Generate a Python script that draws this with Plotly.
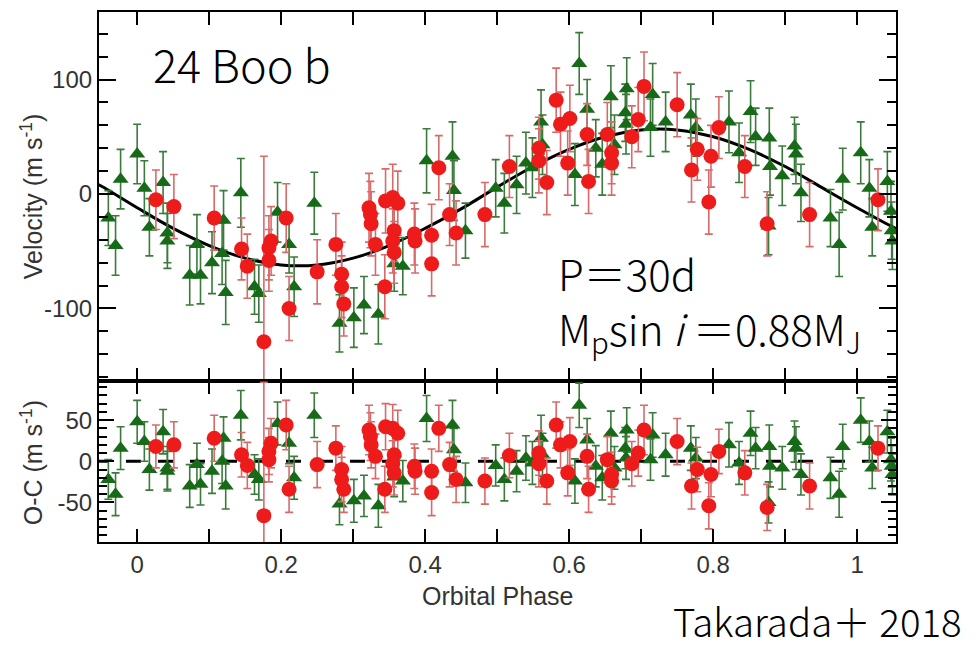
import plotly.graph_objects as go

# ---------------- data ----------------
g_phase = [-0.040, -0.030, -0.023, 0.000, 0.010, 0.017, 0.036, 0.042, 0.042, 0.073,
           0.083, 0.088, 0.104, 0.120, 0.123, 0.118, 0.144, 0.163, 0.169, 0.195,
           0.211, 0.218, 0.246, 0.281, 0.301, 0.315, 0.335, 0.357, 0.369, 0.402,
           0.438, 0.440, 0.456, 0.498, 0.510, 0.527, 0.540, 0.549, 0.561, 0.563,
           0.608, 0.614, 0.625, 0.637, 0.646, 0.658, 0.663, 0.678, 0.680, 0.679,
           0.713, 0.716, 0.734, 0.769, 0.776, 0.822, 0.836, 0.852, 0.859, 0.878,
           0.879, 0.877, 0.896, 0.913, 0.915, 0.922, 0.963, 0.975, 0.980, 1.005,
           1.017, 1.021, 1.042, 1.047, 1.048, 1.049]
g_vel = [-21, -45, 13, 35, 5, -29, 10, -34, -41, -71,
         -44, -71, -60, -23, -86, -52, 1, -81, -87, -16,
         -44, -81, -8, -113, -108, -97, -105, -61, -63, 29,
         33, 3, -32, 5, -8, 8, 27, 23, 63, 43,
         17, 114, 74, 40, 26, 85, 43, 71, 92, 61,
         58, 87, 63, 69, 58, 63, 36, 72, 50, 49,
         24, -28, 16, 42, 35, 1, -21, -44, 13, 36,
         5, -29, 11, -15, -32, -41]
g_oc = [-22, -40, 16, 48, 24, -10, 36, -8, -12, -30,
        -4, -28, -12, 28, -30, 0, 56, -16, -22, 46,
        22, -20, 56, -52, -48, -42, -54, -19, -24, 52,
        44, 14, -26, -5, -22, -12, 4, -2, 28, 8,
        -24, 68, 26, -6, -20, 34, -8, 16, 38, 4,
        2, 32, 8, 16, 4, 20, -2, 34, 16, 18,
        -6, -50, -8, 24, 16, -16, -20, -40, 18, 50,
        24, -8, 36, 2, -6, -16]
g_err = [24, 26, 26, 26, 24, 25, 27, 26, 24, 26,
         26, 25, 27, 26, 28, 27, 30, 24, 25, 26,
         25, 26, 27, 25, 26, 25, 26, 24, 25, 28,
         30, 26, 24, 25, 26, 25, 27, 26, 28, 26,
         27, 27, 26, 25, 27, 27, 26, 25, 27, 26,
         25, 27, 26, 27, 25, 27, 26, 27, 25, 26,
         25, 25, 26, 25, 26, 25, 25, 28, 27, 27,
         25, 25, 26, 26, 25, 25]

r_phase = [0.026, 0.051, 0.107, 0.145, 0.153, 0.186, 0.183, 0.183, 0.176, 0.207,
           0.211, 0.250, 0.276, 0.284, 0.284, 0.287, 0.322, 0.324, 0.325, 0.331,
           0.345, 0.355, 0.362, 0.357, 0.355, 0.357, 0.344, 0.385, 0.386, 0.409,
           0.409, 0.419, 0.434, 0.443, 0.483, 0.517, 0.558, 0.558, 0.569, 0.582,
           0.588, 0.601, 0.598, 0.625, 0.627, 0.653, 0.659, 0.659, 0.687, 0.696,
           0.704, 0.750, 0.770, 0.778, 0.797, 0.794, 0.808, 0.844, 0.875, 0.934,
           1.029]
r_vel = [-5, -11, -21, -48, -63, -41, -47, -58, -129, -21,
         -100, -68, -44, -70, -81, -96, -12, -18, -26, -44,
         -6, -3, -8, -32, -41, -51, -81, -35, -41, -36,
         -61, 23, -18, -34, -18, 24, 40, 29, 10, 82,
         61, 66, 27, 52, 11, 52, 36, 27, 50, 65,
         94, 78, 21, 39, 33, -7, 58, 24, -26, -18,
         -5]
r_oc = [18, 20, 28, 8, -5, 22, 12, 2, -66, 44,
        -34, -4, 16, -10, -22, -34, 38, 30, 20, 6,
        42, 40, 34, 8, -3, -14, -34, -6, -12, -12,
        -38, 40, -4, -22, -24, 7, 10, -3, -24, 44,
        20, 24, -14, 6, -34, 2, -16, -24, -3, 10,
        38, 24, -30, -10, -16, -54, 12, -14, -56, -30,
        16]
r_err = [26, 28, 28, 27, 28, 30, 28, 27, 162, 30,
         28, 28, 27, 28, 27, 28, 30, 29, 28, 27,
         28, 29, 28, 27, 28, 27, 28, 27, 28, 27,
         28, 28, 27, 28, 28, 27, 27, 28, 28, 28,
         28, 29, 28, 27, 28, 28, 27, 28, 27, 28,
         30, 28, 28, 27, 27, 28, 27, 27, 28, 28,
         27]

model_phase = [-0.06, -0.05, 0.00, 0.05, 0.10, 0.15, 0.20, 0.25, 0.30, 0.35, 0.40, 0.45,
               0.50, 0.55, 0.60, 0.65, 0.70, 0.75, 0.80, 0.85, 0.90, 0.95,
               1.00, 1.05, 1.06]
model_vel = [10, 7, -12, -30, -45, -56, -62, -62, -56, -45, -30, -13,
             6, 24, 39, 50, 56, 56, 50, 39, 24, 6,
             -12, -29, -32]

zero_phase = [-0.06, 1.06]
zero_val = [0, 0]

x_ticks = [0.0, 0.2, 0.4, 0.6, 0.8, 1.0]
x_labels = ["0", "0.2", "0.4", "0.6", "0.8", "1"]

# ---------------- styling ----------------
RED = "#ee1b1b"
RED_ERR = "#d86a6a"
GREEN = "#176a17"
GREEN_ERR = "#3a7a3a"
TICK_FONT = dict(family="Liberation Sans, Arial, sans-serif", size=24, color="#333333")
TITLE_FONT = dict(family="Liberation Sans, Arial, sans-serif", size=25, color="#333333")
JP = "Noto Sans CJK JP"

fig = go.Figure()

# top panel
fig.add_trace(go.Scatter(x=model_phase, y=model_vel, mode="lines", line=dict(color="black", width=3, shape="spline"),
                         xaxis="x", yaxis="y", hoverinfo="skip"))
fig.add_trace(go.Scatter(x=g_phase, y=g_vel, mode="markers",
                         marker=dict(symbol="triangle-up", size=14, color=GREEN),
                         error_y=dict(type="data", array=g_err, color=GREEN_ERR, thickness=1.6, width=4),
                         xaxis="x", yaxis="y"))
fig.add_trace(go.Scatter(x=r_phase, y=r_vel, mode="markers",
                         marker=dict(symbol="circle", size=15, color=RED),
                         error_y=dict(type="data", array=r_err, color=RED_ERR, thickness=1.6, width=4),
                         xaxis="x", yaxis="y"))

# bottom panel
fig.add_trace(go.Scatter(x=zero_phase, y=zero_val, mode="lines",
                         line=dict(color="black", width=3, dash="15px,17px"),
                         xaxis="x2", yaxis="y2", hoverinfo="skip"))
fig.add_trace(go.Scatter(x=g_phase, y=g_oc, mode="markers",
                         marker=dict(symbol="triangle-up", size=14, color=GREEN),
                         error_y=dict(type="data", array=g_err, color=GREEN_ERR, thickness=1.6, width=4),
                         xaxis="x2", yaxis="y2"))
fig.add_trace(go.Scatter(x=r_phase, y=r_oc, mode="markers",
                         marker=dict(symbol="circle", size=15, color=RED),
                         error_y=dict(type="data", array=r_err, color=RED_ERR, thickness=1.6, width=4),
                         xaxis="x2", yaxis="y2"))

split = 162 / 532
common_x = dict(range=[-0.053, 1.054], tickmode="array", tickvals=x_ticks, ticks="inside", ticklen=13,
                tickwidth=2, tickcolor="black", mirror="ticks", showline=True, linewidth=2,
                linecolor="black", showgrid=False, zeroline=False,
                minor=dict(dtick=0.1, tick0=0, ticks="inside", ticklen=13, tickwidth=2, tickcolor="black"))
fig.update_layout(
    width=977, height=647,
    margin=dict(l=99, r=81, t=10, b=105),
    paper_bgcolor="white", plot_bgcolor="white",
    showlegend=False,
    xaxis=dict(domain=[0, 1], anchor="y", showticklabels=False, **common_x),
    xaxis2=dict(domain=[0, 1], anchor="y2", ticktext=x_labels, tickfont=TICK_FONT, **common_x),
    yaxis=dict(domain=[split, 1], anchor="x", range=[-163, 159], tickmode="array", tickvals=[-100, 0, 100],
               ticktext=["-100", "0", "100"], tickfont=TICK_FONT,
               ticks="inside", ticklen=17, tickwidth=2, tickcolor="black",
               minor=dict(dtick=20, tick0=0, ticks="inside", ticklen=9, tickwidth=2, tickcolor="black"),
               mirror="ticks", showline=True, linewidth=2.2, linecolor="black",
               showgrid=False, zeroline=False),
    yaxis2=dict(domain=[0, split], anchor="x2", range=[-98, 98], tickmode="array", tickvals=[-50, 0, 50],
                ticktext=["-50", "0", "50"], tickfont=TICK_FONT,
                ticks="inside", ticklen=15, tickwidth=2, tickcolor="black",
                minor=dict(dtick=10, tick0=0, ticks="inside", ticklen=8, tickwidth=2, tickcolor="black"),
                mirror="ticks", showline=True, linewidth=2.2, linecolor="black",
                showgrid=False, zeroline=False),
)

def px_x(px):
    return (px - 99) / 797

def px_y(py):
    return (542 - py) / 532

annots = [
    dict(text="Velocity (m s<sup>-1</sup>)", x=px_x(32), y=px_y(195), textangle=-90,
         xanchor="center", yanchor="middle", font=TITLE_FONT),
    dict(text="O-C (m s<sup>-1</sup>)", x=px_x(32), y=px_y(463), textangle=-90,
         xanchor="center", yanchor="middle", font=TITLE_FONT),
    dict(text="Orbital Phase", x=px_x(497), y=px_y(596), xanchor="center", yanchor="middle", font=TITLE_FONT),
    dict(text="24 Boo b", x=px_x(151), y=px_y(62), xanchor="left", yanchor="middle",
         font=dict(family=JP, size=45, color="black", weight=300)),
    dict(text="P＝30d<br>M<sub>p</sub>sin <i>i</i> ＝0.88M<sub>J</sub>", x=px_x(556), y=px_y(301),
         xanchor="left", yanchor="middle", align="left",
         font=dict(family=JP, size=42, color="black", weight=300)),
    dict(text="Takarada＋ 2018", x=px_x(671), y=px_y(620), xanchor="left", yanchor="middle",
         font=dict(family=JP, size=38.5, color="black", weight=300)),
]
for a in annots:
    a.update(xref="paper", yref="paper", showarrow=False)
fig.update_layout(annotations=annots)

fig.write_html("out.html")
